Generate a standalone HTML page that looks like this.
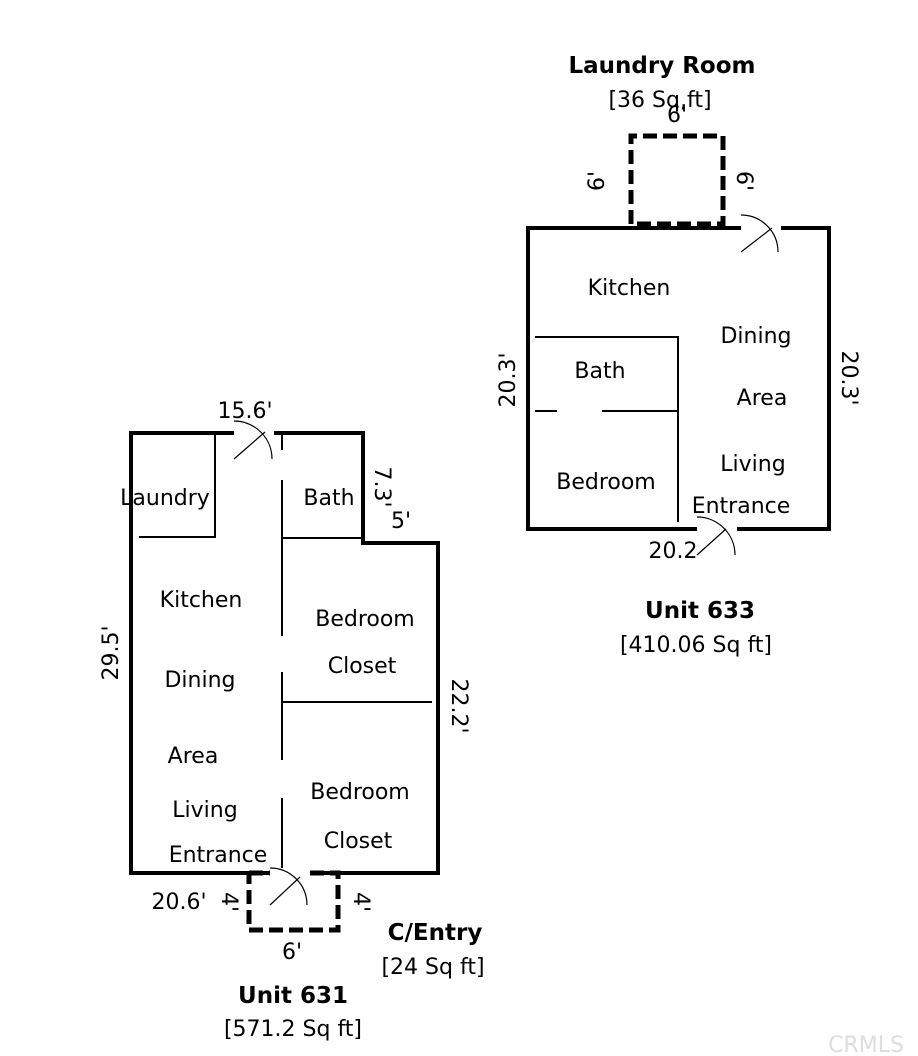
<!DOCTYPE html>
<html><head><style>
html,body{margin:0;padding:0;background:#fff;}
svg{display:block;}
text{font-family:"DejaVu Sans","Liberation Sans",sans-serif;font-size:22px;fill:#000;}
.b{font-weight:bold;font-size:23px;}
</style></head><body>
<svg width="918" height="1056" viewBox="0 0 918 1056" xmlns="http://www.w3.org/2000/svg">
<g fill="none" stroke="#000">
<!-- Unit 633 -->
<path d="M741 228 H528 V529 H697 M737 529 H829 V228 H781" stroke-width="4"/>
<path d="M631 224 V136 H723 V224 H631" stroke-width="5" stroke-dasharray="14,6"/>
<path d="M741 215 A37 37 0 0 1 778 252 M741 252 L772 228" stroke-width="1.2"/>
<path d="M697 517 A38 38 0 0 1 735 555 M697 555 L726 529" stroke-width="1.2"/>
<path d="M535 337 H678 V522 M535 411 H557 M602 411 H678" stroke-width="2"/>
<!-- Unit 631 -->
<path d="M234 433 H131 V873 H270 M310 873 H438 V543 H363 V433 H274" stroke-width="4"/>
<path d="M249 873 H270 M310 873 H338 V930 H249 V873" stroke-width="5" stroke-dasharray="14,6"/>
<path d="M234 421 A38 38 0 0 1 272 459 M234 459 L265 432" stroke-width="1.2"/>
<path d="M270 868 A37 37 0 0 1 307 905 M270 905 L300 877" stroke-width="1.2"/>
<path d="M215 433 V537 H139 M282 433 V450 M282 480 V636 M282 672 V760 M282 798 V868 M282 538 H363 M282 702 H432" stroke-width="2"/>
</g>
<!-- 633 text -->
<text class="b" x="662" y="73" text-anchor="middle">Laundry Room</text>
<text x="660" y="107" text-anchor="middle">[36 Sq,ft]</text>
<text x="677" y="122" text-anchor="middle">6'</text>
<text transform="translate(604,181) rotate(-90)" text-anchor="middle">6'</text>
<text transform="translate(737,181) rotate(90)" text-anchor="middle">6'</text>
<text x="629" y="295" text-anchor="middle">Kitchen</text>
<text x="756" y="343" text-anchor="middle">Dining</text>
<text x="600" y="378" text-anchor="middle">Bath</text>
<text x="762" y="405" text-anchor="middle">Area</text>
<text x="753" y="471" text-anchor="middle">Living</text>
<text x="606" y="489" text-anchor="middle">Bedroom</text>
<text x="741" y="513" text-anchor="middle">Entrance</text>
<text x="673" y="558" text-anchor="middle">20.2</text>
<text transform="translate(515,380) rotate(-90)" text-anchor="middle">20.3'</text>
<text transform="translate(842,378) rotate(90)" text-anchor="middle">20.3'</text>
<text class="b" x="700" y="618" text-anchor="middle">Unit 633</text>
<text x="696" y="652" text-anchor="middle">[410.06 Sq ft]</text>
<!-- 631 text -->
<text x="245" y="418" text-anchor="middle">15.6'</text>
<text x="165" y="505" text-anchor="middle">Laundry</text>
<text x="329" y="505" text-anchor="middle">Bath</text>
<text transform="translate(375,487) rotate(90)" text-anchor="middle">7.3'</text>
<text x="401" y="528" text-anchor="middle">5'</text>
<text x="201" y="607" text-anchor="middle">Kitchen</text>
<text x="365" y="626" text-anchor="middle">Bedroom</text>
<text transform="translate(118,653) rotate(-90)" text-anchor="middle">29.5'</text>
<text x="362" y="673" text-anchor="middle">Closet</text>
<text x="200" y="687" text-anchor="middle">Dining</text>
<text transform="translate(452,706) rotate(90)" text-anchor="middle">22.2'</text>
<text x="193" y="763" text-anchor="middle">Area</text>
<text x="360" y="799" text-anchor="middle">Bedroom</text>
<text x="205" y="817" text-anchor="middle">Living</text>
<text x="358" y="848" text-anchor="middle">Closet</text>
<text x="218" y="862" text-anchor="middle">Entrance</text>
<text x="179" y="909" text-anchor="middle">20.6'</text>
<text transform="translate(222,902) rotate(90)" text-anchor="middle">4'</text>
<text transform="translate(354,902) rotate(90)" text-anchor="middle">4'</text>
<text x="292" y="959" text-anchor="middle">6'</text>
<text class="b" x="435" y="940" text-anchor="middle">C/Entry</text>
<text x="433" y="974" text-anchor="middle">[24 Sq ft]</text>
<text class="b" x="293" y="1003" text-anchor="middle">Unit 631</text>
<text x="293" y="1036" text-anchor="middle">[571.2 Sq ft]</text>
<text x="866" y="1052" text-anchor="middle" style="font-size:22px;fill:#ddd">CRMLS</text>
</svg>
</body></html>
